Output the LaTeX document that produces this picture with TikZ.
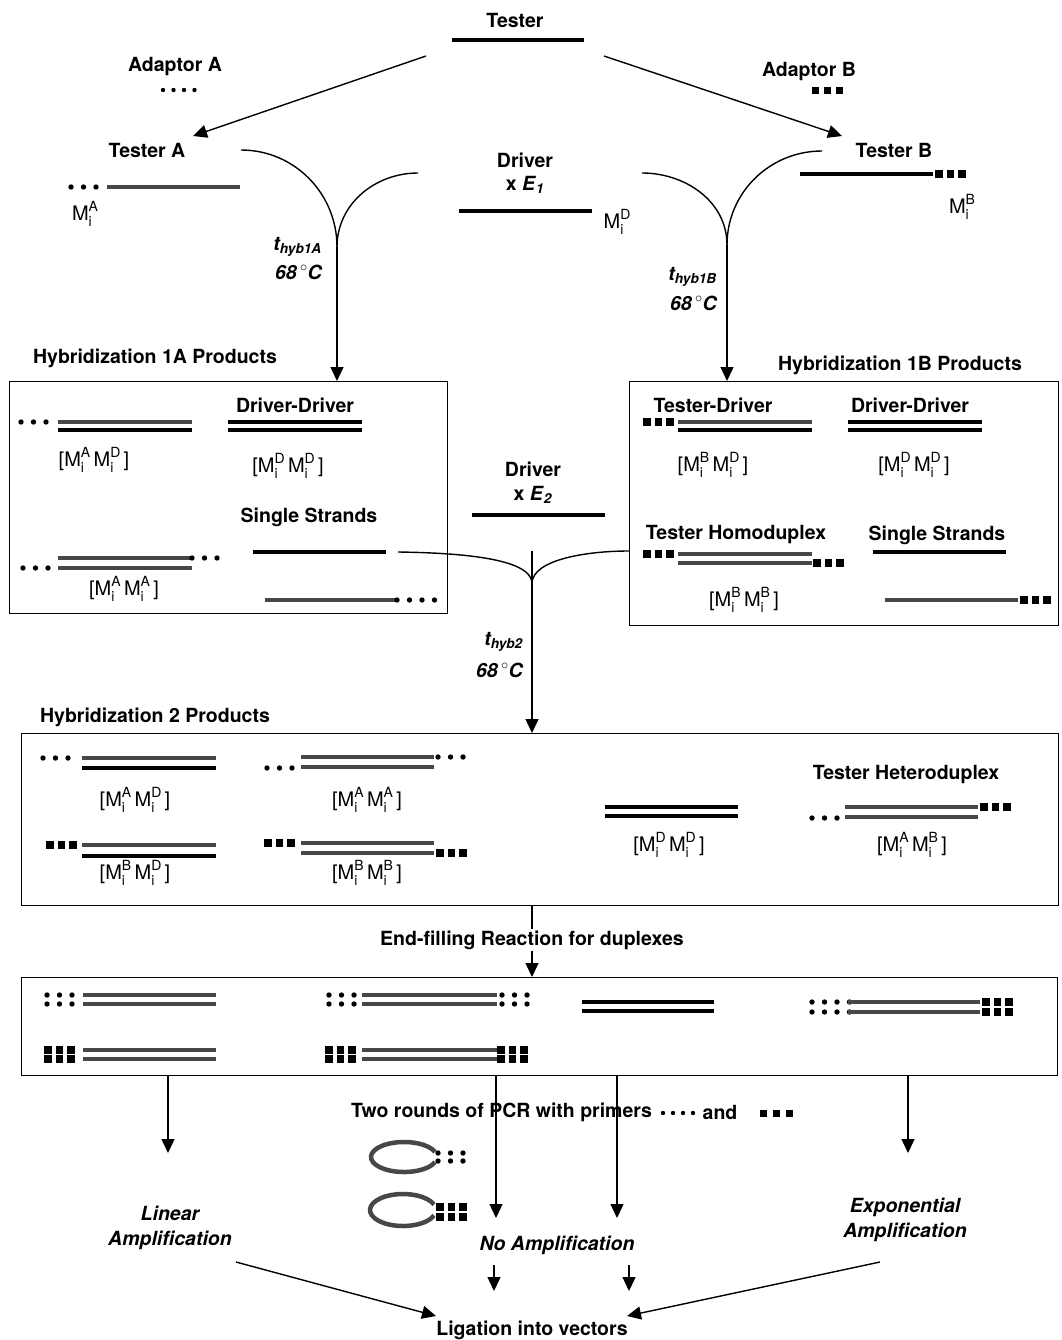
\documentclass[tikz,border=0pt]{standalone}
\usepackage{fontspec}
\setmainfont{TeX Gyre Heros}
\usepackage{xcolor}
\usepackage{tikz}
\usetikzlibrary{arrows.meta, positioning}

\definecolor{strandgray}{HTML}{474747}

\tikzstyle{heading} = [font=\bfseries\fontsize{19.5}{24}\selectfont, inner sep=1pt]
\tikzstyle{cond} = [font=\bfseries\itshape\fontsize{19.5}{25}\selectfont, inner sep=1pt, align=center]
\tikzstyle{mtag} = [font=\fontsize{20}{22}\selectfont, inner sep=1pt]
\tikzstyle{arrow} = [line width=1.4pt, -{Triangle[length=14pt,width=13pt]}]
\tikzstyle{link} = [line width=1.4pt]
\tikzstyle{tstrand} = [line width=4.5pt, draw=strandgray]
\tikzstyle{dstrand} = [line width=4.5pt, draw=black]
\tikzstyle{ring} = [line width=4.5pt, draw=strandgray]
\tikzstyle{panel} = [draw, line width=1.4pt, anchor=north west, inner sep=0pt]

\newcommand{\Mi}[1]{M\rlap{\raisebox{-0.55ex}{\fontsize{14}{14}\selectfont i}}\raisebox{0.85ex}{\fontsize{14}{14}\selectfont #1}}
% adaptor A dots: first x, y, count
\newcommand{\dotsA}[3]{\foreach \idx in {1,...,#3} \fill ({#1+12.5*(\idx-1)},#2) circle (2.7pt);}
% adaptor B squares: first x, y, count
\newcommand{\boxesB}[3]{\foreach \idx in {1,...,#3} \fill ({#1+11.5*(\idx-1)-3.7},{#2-3.7}) rectangle ++(7.4,7.4);}

\begin{document}
\begin{tikzpicture}[x=1pt, y=-1pt]
\useasboundingbox[fill=white] (0,0) rectangle (1061,1340);

% Tester and adaptors
\node[heading] (tester) at (515,20) {Tester};
\draw[dstrand] (452,40) -- (584,40);
\node[heading] (adaptorA) at (175,67) {Adaptor A};
\foreach \x in {163,173.5,184,194.5} \fill (\x,90) circle (2.2pt);
\node[heading] (adaptorB) at (809,72) {Adaptor B};
\foreach \x in {815,827,839} \fill ({\x-3.5},87.5) rectangle ++(7,7);

% Tester A / Tester B
\node[heading] (testerA) at (147,150) {Tester A};
\node[heading] (testerB) at (894,150) {Tester B};
\coordinate (splitA) at (426,56);
\coordinate (splitB) at (604,56);
\coordinate (tipA) at (193,136);
\coordinate (tipB) at (842,136);
\draw[arrow] (splitA) -- (tipA);
\draw[arrow] (splitB) -- (tipB);
\dotsA{71}{187}{3}
\draw[tstrand] (107,187) -- (240,187);
\node[mtag] (mA) at (85,214) {\Mi{A}};
\draw[dstrand] (800,174) -- (933,174);
\boxesB{939}{174}{3}
\node[mtag] (mB) at (962,207) {\Mi{B}};

% Driver x E1
\node[heading] (driver1) at (525,160) {Driver};
\node[heading] (e1) at (525,185) {x \textit{E}\textsubscript{\textit{1}}};
\draw[dstrand] (459,211) -- (592,211);
\node[mtag] (mD) at (617,222) {\Mi{D}};

% first hybridizations
\coordinate (cuspA) at (337,247);
\coordinate (cuspB) at (727,245);
\draw[link] (241,150) to[out=0,in=90] (cuspA);
\draw[link] (418,173) to[out=180,in=90] (cuspA);
\draw[link] (822,151) to[out=180,in=90] (cuspB);
\draw[link] (642,173) to[out=0,in=90] (cuspB);
\node[cond, anchor=east] (hybA) at (323,247) {t\textsubscript{hyb1A}};
\node[cond, anchor=east] (tempA) at (323,272) {68\,$^\circ$C};
\node[cond, anchor=east] (hybB) at (718,277) {t\textsubscript{hyb1B}};
\node[cond, anchor=east] (tempB) at (718,303) {68\,$^\circ$C};

% Hybridization 1A
\node[heading] (titleA) at (155,358) {Hybridization 1A Products};
\node[panel, minimum width=438, minimum height=232] (box1A) at (9,381) {};
\draw[arrow] (cuspA) -- (cuspA |- box1A.north);
\dotsA{21}{422}{3}
\draw[tstrand] (58,422) -- (192,422);
\draw[dstrand] (58,430) -- (192,430);
\node[mtag] (mAD1) at (94,460) {[\Mi{A}\,\Mi{D}\,]};
\node[heading] (ddA) at (295,405) {Driver-Driver};
\draw[dstrand] (228,422) -- (362,422);
\draw[dstrand] (228,430) -- (362,430);
\node[mtag] (mDD1) at (288,466) {[\Mi{D}\,\Mi{D}\,]};
\node[heading] (ssA) at (309,517) {Single Strands};
\draw[dstrand] (253,552) -- (386,552);
\draw[tstrand] (58,558) -- (192,558);
\dotsA{192}{558}{3}
\draw[tstrand] (58,568) -- (192,568);
\dotsA{23}{568}{3}
\node[mtag] (mAA1) at (124,589) {[\Mi{A}\,\Mi{A}\,]};
\draw[tstrand] (265,600) -- (397,600);
\dotsA{397}{600}{4}

% Hybridization 1B
\node[heading] (titleB) at (900,365) {Hybridization 1B Products};
\node[panel, minimum width=429, minimum height=244] (box1B) at (629,381) {};
\draw[arrow] (cuspB) -- (cuspB |- box1B.north);
\node[heading] (tdB) at (713,405) {Tester-Driver};
\boxesB{647}{422}{3}
\draw[tstrand] (678,422) -- (812,422);
\draw[dstrand] (678,430) -- (812,430);
\node[mtag] (mBD1) at (713,465) {[\Mi{B}\,\Mi{D}\,]};
\node[heading] (ddB) at (910,405) {Driver-Driver};
\draw[dstrand] (848,422) -- (982,422);
\draw[dstrand] (848,430) -- (982,430);
\node[mtag] (mDD2) at (914,465) {[\Mi{D}\,\Mi{D}\,]};
\node[heading] (thB) at (736,535) {Tester Homoduplex};
\boxesB{647}{554}{3}
\draw[tstrand] (678,554) -- (812,554);
\draw[tstrand] (678,563) -- (812,563);
\boxesB{817}{563}{3}
\node[mtag] (mBB1) at (744,600) {[\Mi{B}\,\Mi{B}\,]};
\node[heading] (ssB) at (937,535) {Single Strands};
\draw[dstrand] (873,552) -- (1006,552);
\draw[tstrand] (885,600) -- (1018,600);
\boxesB{1024}{600}{3}

% second hybridization
\node[heading] (driver2) at (533,469) {Driver};
\node[heading] (e2) at (533,495) {x \textit{E}\textsubscript{\textit{2}}};
\draw[dstrand] (472,515) -- (605,515);
\coordinate (cusp2) at (532,583);
\coordinate (join2) at (532,551);
\coordinate (leftend2) at (398,552);
\coordinate (rightend2) at (629,551);
\draw[link] (leftend2) .. controls (470,553) and (531,560) .. (cusp2);
\draw[link] (rightend2) .. controls (585,551) and (533,560) .. (cusp2);
\node[cond, anchor=east] (hyb2) at (524,642) {t\textsubscript{hyb2}};
\node[cond, anchor=east] (temp2) at (524,670) {68\,$^\circ$C};

% Hybridization 2
\node[heading] (title2) at (155,717) {Hybridization 2 Products};
\node[panel, minimum width=1037, minimum height=172] (box2) at (21,733) {};
\draw[arrow] (join2) -- (join2 |- box2.north);
\dotsA{43}{758}{3}
\draw[tstrand] (82,758) -- (216,758);
\draw[dstrand] (82,768) -- (216,768);
\node[mtag] (mAD2) at (135,800) {[\Mi{A}\,\Mi{D}\,]};
\boxesB{50}{845}{3}
\draw[tstrand] (82,845) -- (216,845);
\draw[dstrand] (82,856) -- (216,856);
\node[mtag] (mBD2) at (135,873) {[\Mi{B}\,\Mi{D}\,]};
\draw[tstrand] (301,757) -- (434,757);
\dotsA{438}{757}{3}
\draw[tstrand] (301,767) -- (434,767);
\dotsA{267}{768}{3}
\node[mtag] (mAA2) at (367,800) {[\Mi{A}\,\Mi{A}\,]};
\boxesB{268}{843}{3}
\draw[tstrand] (301,843) -- (434,843);
\draw[tstrand] (301,853) -- (434,853);
\boxesB{440}{853}{3}
\node[mtag] (mBB2) at (367,873) {[\Mi{B}\,\Mi{B}\,]};
\draw[dstrand] (605,807) -- (738,807);
\draw[dstrand] (605,816) -- (738,816);
\node[mtag] (mDD3) at (669,845) {[\Mi{D}\,\Mi{D}\,]};
\node[heading] (hetero) at (906,775) {Tester Heteroduplex};
\draw[tstrand] (845,807) -- (978,807);
\boxesB{984}{807}{3}
\draw[tstrand] (845,817) -- (978,817);
\dotsA{812}{818}{3}
\node[mtag] (mAB2) at (912,845) {[\Mi{A}\,\Mi{B}\,]};

% End-filling
\node[heading] (endfill) at (532,940) {End-filling Reaction for duplexes};
\draw[link] (box2.south -| endfill) -- (endfill);
\node[panel, minimum width=1036, minimum height=98] (box3) at (21,977) {};
\draw[arrow] (endfill) -- (box3.north -| endfill);
\dotsA{47}{995}{3}
\dotsA{47}{1004}{3}
\draw[tstrand] (83,995) -- (216,995);
\draw[tstrand] (83,1004) -- (216,1004);
\dotsA{329}{995}{3}
\dotsA{329}{1004}{3}
\draw[tstrand] (362,995) -- (497,995);
\draw[tstrand] (362,1004) -- (497,1004);
\dotsA{502}{995}{3}
\dotsA{502}{1004}{3}
\boxesB{48}{1050}{3}
\boxesB{48}{1059}{3}
\draw[tstrand] (83,1050) -- (216,1050);
\draw[tstrand] (83,1059) -- (216,1059);
\boxesB{329}{1050}{3}
\boxesB{329}{1059}{3}
\draw[tstrand] (362,1050) -- (497,1050);
\draw[tstrand] (362,1059) -- (497,1059);
\boxesB{501}{1050}{3}
\boxesB{501}{1059}{3}
\draw[dstrand] (582,1002) -- (714,1002);
\draw[dstrand] (582,1011) -- (714,1011);
\dotsA{812}{1002}{4}
\dotsA{812}{1012}{4}
\draw[tstrand] (848,1002) -- (980,1002);
\draw[tstrand] (848,1012) -- (980,1012);
\boxesB{986}{1002}{3}
\boxesB{986}{1012}{3}

% PCR outcomes
\coordinate (linTip) at (168,1153);
\coordinate (noTipA) at (496,1218);
\coordinate (noTipB) at (617,1218);
\coordinate (expTip) at (908,1153);
\draw[arrow] (box3.south -| linTip) -- (linTip);
\draw[arrow] (box3.south -| noTipA) -- (noTipA);
\draw[arrow] (box3.south -| noTipB) -- (noTipB);
\draw[arrow] (box3.south -| expTip) -- (expTip);
\node[heading, anchor=west] (pcr) at (350,1112) {Two rounds of PCR with primers};
\foreach \x in {663,673,683,693} \fill (\x,1113) circle (2.2pt);
\node[heading] (andword) at (720,1112) {and};
\foreach \x in {763,776,789} \fill ({\x-3.5},1109.5) rectangle ++(7,7);
\draw[ring] (404,1157) ++(20:33pt and 15pt) arc[start angle=20, end angle=340, x radius=33pt, y radius=15pt];
\dotsA{438}{1153}{3}
\dotsA{438}{1161}{3}
\draw[ring] (403,1210) ++(20:33pt and 16pt) arc[start angle=20, end angle=340, x radius=33pt, y radius=16pt];
\boxesB{440}{1207}{3}
\boxesB{440}{1217}{3}
\node[cond] (linear) at (170,1228) {Linear\\Amplification};
\node[cond] (noamp) at (557,1245) {No Amplification};
\node[cond] (expo) at (905,1220) {Exponential\\Amplification};

% Ligation
\node[heading] (ligation) at (532,1330) {Ligation into vectors};
\coordinate (linEnd) at (236,1262);
\coordinate (expEnd) at (880,1262);
\coordinate (noEndA) at (494,1265);
\coordinate (noEndB) at (629,1265);
\coordinate (noTipC) at (494,1291);
\coordinate (noTipD) at (629,1291);
\coordinate (ligL) at (436,1316);
\coordinate (ligR) at (627,1316);
\draw[arrow] (linEnd) -- (ligL);
\draw[arrow] (expEnd) -- (ligR);
\draw[arrow] (noEndA) -- (noTipC);
\draw[arrow] (noEndB) -- (noTipD);

\end{tikzpicture}
\end{document}
